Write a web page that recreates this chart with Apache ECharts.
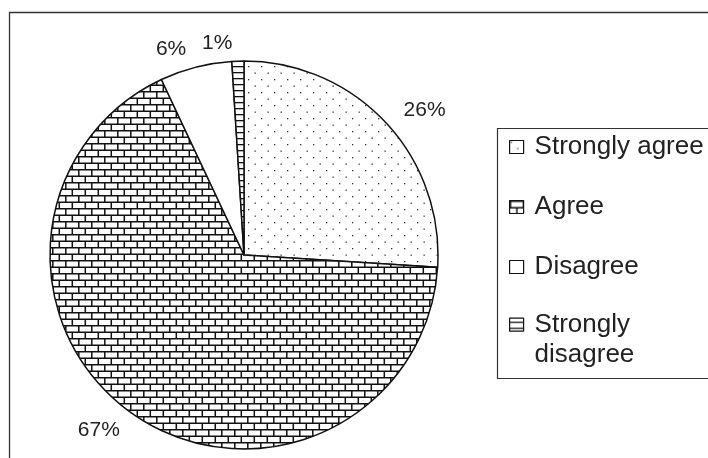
<!DOCTYPE html>
<html>
<head>
<meta charset="utf-8">
<script src="https://cdn.jsdelivr.net/npm/echarts@6/dist/echarts.min.js"></script>
<style>
html, body { margin: 0; padding: 0; background: #fff; }
#main { width: 708px; height: 458px; }
</style>
</head>
<body>
<div id="main"></div>
<script>
var categories = ['Strongly agree', 'Agree', 'Disagree', 'Strongly disagree'];
var shares = [26, 67, 6, 1];

// small canvas tiles used as hatch fills
function makeTile(w, h, draw) {
    var c = document.createElement('canvas');
    c.width = w;
    c.height = h;
    var ctx = c.getContext('2d');
    ctx.fillStyle = '#fff';
    ctx.fillRect(0, 0, w, h);
    draw(ctx);
    return { image: c, repeat: 'repeat' };
}

var dots = makeTile(13, 13, function (ctx) {
    ctx.fillStyle = '#333';
    ctx.fillRect(1, 1, 1.3, 1.3);
    ctx.fillRect(7.5, 7.5, 1.3, 1.3);
});
var bricks = makeTile(13, 13, function (ctx) {
    ctx.strokeStyle = '#111';
    ctx.lineWidth = 1.5;
    ctx.beginPath();
    ctx.moveTo(0, 0.8); ctx.lineTo(13, 0.8);
    ctx.moveTo(0, 7.3); ctx.lineTo(13, 7.3);
    ctx.moveTo(0.8, 0); ctx.lineTo(0.8, 6.5);
    ctx.moveTo(7.3, 6.5); ctx.lineTo(7.3, 13);
    ctx.stroke();
});
var stripes = makeTile(6, 6, function (ctx) {
    ctx.fillStyle = '#111';
    ctx.fillRect(0, 0, 6, 1.3);
});
var fills = [dots, bricks, '#fff', stripes];

var font = '"Liberation Sans", Arial, sans-serif';
var legendText = {
    fontSize: 26,
    color: '#222',
    fontFamily: font,
    lineHeight: 30,
    padding: [0, 0, 0, 6]
};
var chart = echarts.init(document.getElementById('main'));

var option = {
    backgroundColor: '#fff',
    animation: false,
    graphic: [
        {
            type: 'rect', silent: true, z: -1,
            shape: { x: 9.5, y: 12.5, width: 760, height: 500 },
            style: { fill: 'none', stroke: '#333', lineWidth: 1.3 }
        },
        {
            type: 'rect', silent: true,
            shape: { x: 497.5, y: 128.5, width: 260, height: 250 },
            style: { fill: 'none', stroke: '#333', lineWidth: 1.2 }
        }
    ],
    legend: [
        {
            orient: 'vertical',
            left: 509,
            top: 132,
            padding: 0,
            itemWidth: 14,
            itemHeight: 13,
            itemGap: 30,
            icon: 'rect',
            selectedMode: false,
            itemStyle: { borderColor: '#111', borderWidth: 1.2 },
            textStyle: legendText,
            data: categories.slice(0, 3)
        },
        {
            // two-line entry, box sits beside the first line
            orient: 'vertical',
            left: 509,
            top: 309,
            padding: 0,
            itemWidth: 14,
            itemHeight: 60,
            icon: 'path://M0,8.5H14V21.5H0Z M7,0Z M7,60Z',
            selectedMode: false,
            itemStyle: { borderColor: '#111', borderWidth: 1.2 },
            textStyle: legendText,
            formatter: function (name) {
                return name.replace(' ', '\n');
            },
            data: categories.slice(3)
        }
    ],
    series: [
        {
            type: 'pie',
            center: [244, 255],
            radius: 194,
            startAngle: 90,
            clockwise: true,
            avoidLabelOverlap: false,
            itemStyle: { borderColor: '#111', borderWidth: 1.5 },
            label: {
                show: true,
                position: 'outside',
                formatter: function (p) { return p.value + '%'; },
                color: '#222',
                fontSize: 21,
                fontFamily: font
            },
            labelLine: { show: false, length: 18, length2: 0 },
            emphasis: { disabled: true },
            data: categories.map(function (n, i) {
                return { name: n, value: shares[i], itemStyle: { color: fills[i] } };
            })
        }
    ]
};
chart.setOption(option);
</script>
</body>
</html>
